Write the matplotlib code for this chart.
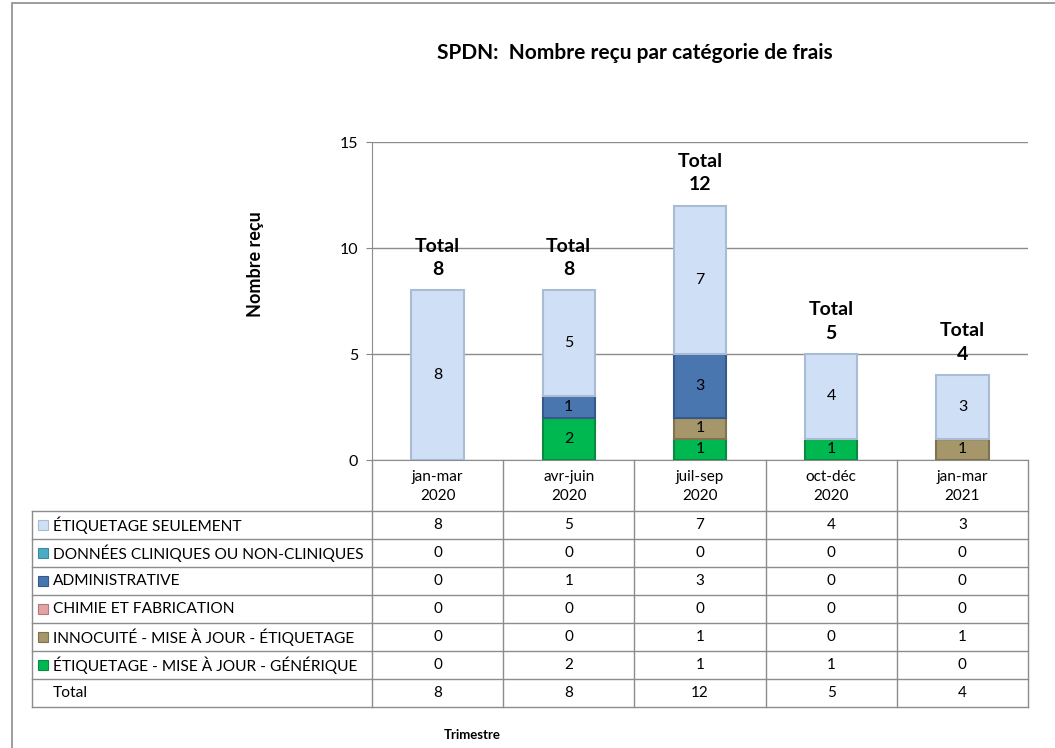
import matplotlib.pyplot as plt
from matplotlib.patches import Rectangle
from matplotlib.lines import Line2D

plt.rcParams['font.family'] = ['Lato', 'DejaVu Sans']

# data
trimestres = ['jan-mar\n2020', 'avr-juin\n2020', 'juil-sep\n2020', 'oct-déc\n2020', 'jan-mar\n2021']
# stacking order: bottom to top
series_names = ['ÉTIQUETAGE - MISE À JOUR - GÉNÉRIQUE', 'INNOCUITÉ - MISE À JOUR - ÉTIQUETAGE',
                'CHIMIE ET FABRICATION', 'ADMINISTRATIVE',
                'DONNÉES CLINIQUES OU NON-CLINIQUES', 'ÉTIQUETAGE SEULEMENT']
generique = [0, 2, 1, 1, 0]
innocuite = [0, 0, 1, 0, 1]
chimie = [0, 0, 0, 0, 0]
administrative = [0, 1, 3, 0, 0]
donnees = [0, 0, 0, 0, 0]
seulement = [8, 5, 7, 4, 3]
totals = [8, 8, 12, 5, 4]

series = [generique, innocuite, chimie, administrative, donnees, seulement]
colors = ['#00B850', '#A6976A', '#E3A3A3', '#4A76B0', '#4BACC6', '#CFE0F6']
edges = ['#0A8A40', '#7E7250', '#B07A7A', '#35598A', '#3A8AA0', '#A9BCD4']

W, H = 1055, 748
fig = plt.figure(figsize=(W / 100, H / 100), dpi=100)
ax = fig.add_axes([372 / W, 1 - 460 / H, (1028 - 372) / W, (460 - 142) / H])

x = range(len(trimestres))
bottom = [0] * len(trimestres)
for vals, c, ec in zip(series, colors, edges):
    bars = ax.bar(x, vals, width=0.4, bottom=bottom, color=c, edgecolor=ec, linewidth=1.5, zorder=3)
    for b, v, b0 in zip(bars, vals, bottom):
        if v > 0:
            ax.text(b.get_x() + b.get_width() / 2, b0 + v / 2, str(v), ha='center', va='center',
                    fontsize=11.5, color='black', zorder=4)
    bottom = [a + v for a, v in zip(bottom, vals)]

for i, t in enumerate(totals):
    ax.annotate(f'Total\n{t}', xy=(i, t), xytext=(0, 9), textcoords='offset points',
                ha='center', va='bottom', fontsize=14, fontweight='bold', linespacing=1.45)

ax.set_xlim(-0.5, 4.5)
ax.set_ylim(0, 15)
ax.set_yticks([0, 5, 10, 15])
ax.set_xticks([])
ax.tick_params(axis='y', labelsize=11.5, length=4, color='#868686', pad=6)
ax.yaxis.grid(True, color='#8C8C8C', linewidth=1)
ax.set_axisbelow(True)
for s in ['top', 'right']:
    ax.spines[s].set_visible(False)
ax.spines['left'].set_color('#8C8C8C')
ax.spines['bottom'].set_color('#8C8C8C')

# data table under the chart
tr = ax.get_xaxis_transform()
ppu = 318  # pixels per axes height
header_h = 51 / ppu
row_h = 28 / ppu
x_left = -0.5 - 340 / 131.2
table_rows = list(reversed(series_names)) + ['Total']
table_vals = list(reversed(series)) + [totals]
table_cols = list(reversed(colors)) + [None]
table_edges = list(reversed(edges)) + [None]
n = len(table_rows)
y_bot = -header_h - n * row_h
lc = '#8C8C8C'

for k in range(len(trimestres) + 1):
    ax.add_line(Line2D([k - 0.5, k - 0.5], [0, y_bot], transform=tr, color=lc, lw=1, clip_on=False))
ax.add_line(Line2D([x_left, x_left], [-header_h, y_bot], transform=tr, color=lc, lw=1, clip_on=False))
for r in range(n + 1):
    y = -header_h - r * row_h
    ax.add_line(Line2D([x_left, 4.5], [y, y], transform=tr, color=lc, lw=1, clip_on=False))

for i, lab in enumerate(trimestres):
    ax.text(i, -header_h / 2 - 1 / ppu, lab, transform=tr, ha='center', va='center', fontsize=11,
            linespacing=1.5, clip_on=False)

for r, (name, vals, c, ec) in enumerate(zip(table_rows, table_vals, table_cols, table_edges)):
    yc = -header_h - (r + 0.5) * row_h
    if c is not None:
        ax.add_patch(Rectangle((x_left + 6 / 131.2, yc - 5 / ppu), 10 / 131.2, 10 / ppu, transform=tr,
                               facecolor=c, edgecolor=ec, lw=0.8, clip_on=False))
    ax.text(x_left + 21 / 131.2, yc, name, transform=tr, ha='left', va='center', fontsize=11.2,
            clip_on=False)
    for i, v in enumerate(vals):
        ax.text(i, yc, str(v), transform=tr, ha='center', va='center', fontsize=11, clip_on=False)

fig.text(635 / W, 1 - 53 / H, 'SPDN:  Nombre reçu par catégorie de frais', ha='center', va='center',
         fontsize=15, fontweight='bold')
fig.text(256 / W, 1 - 264 / H, 'Nombre reçu', ha='center', va='center', rotation=90,
         fontsize=13, fontweight='bold')
fig.text(472 / W, 1 - 735 / H, 'Trimestre', ha='center', va='center', fontsize=9.5, fontweight='bold')

# chart area border
fig.add_artist(Rectangle((12 / W, -0.01), 1.0, 1 - 3 / H + 0.01, transform=fig.transFigure,
                         fill=False, edgecolor='#8C8C8C', lw=1.2))

fig.savefig('out.png', dpi=100)
